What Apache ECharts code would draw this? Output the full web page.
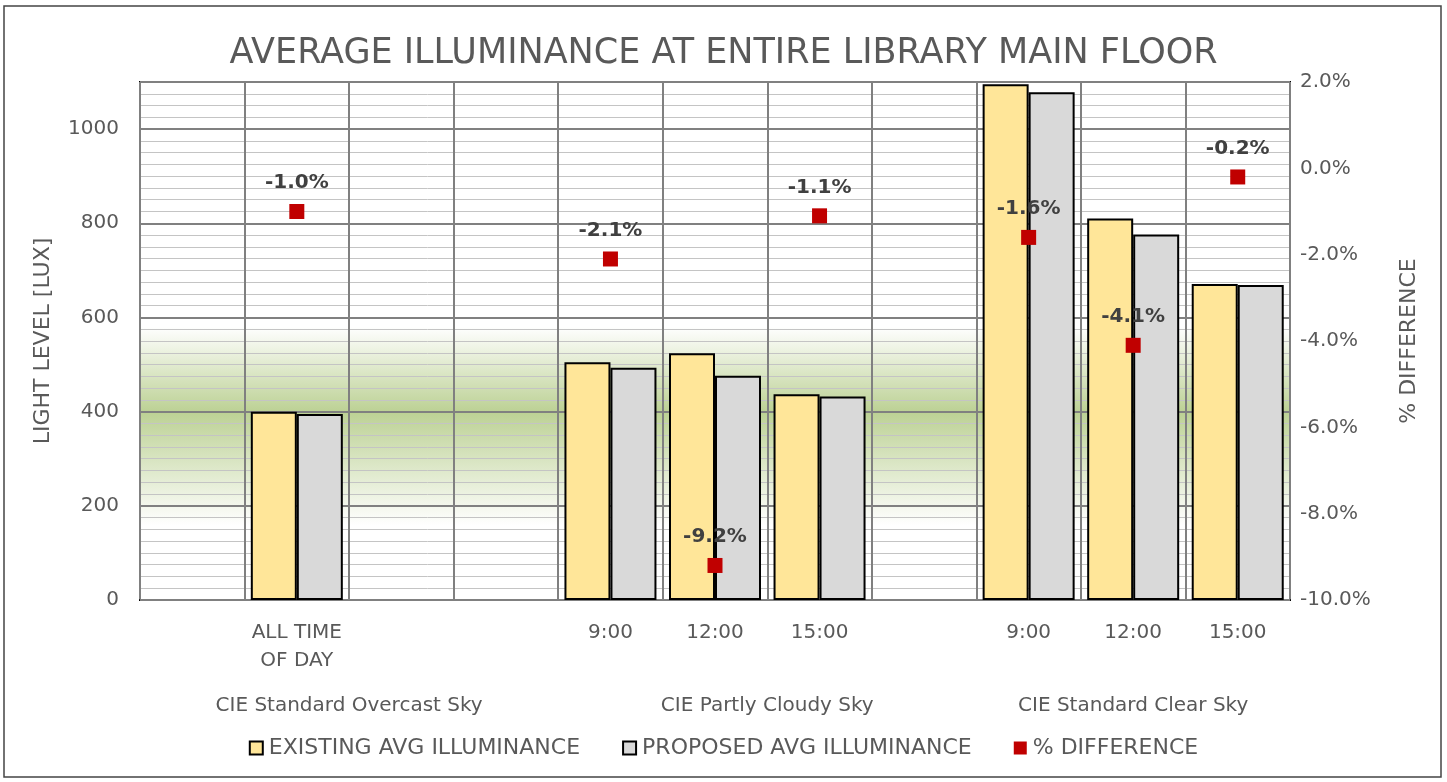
<!DOCTYPE html>
<html>
<head>
<meta charset="utf-8">
<title>Average Illuminance</title>
<style>
  html, body { margin: 0; padding: 0; background: #fff; }
  #main { width: 1447px; height: 782px; }
</style>
<script src="https://cdn.jsdelivr.net/npm/echarts@6/dist/echarts.min.js"></script>
</head>
<body>
<div id="main"></div>
<script>
// slots on the category axis (empty strings are spacer slots)
var slots = ['', 'ALL TIME\nOF DAY', '', '', '9:00', '12:00', '15:00', '', '9:00', '12:00', '15:00'];
var existing = [null, 400, null, null, 505, 524, 437, null, 1095, 810, 671];
var proposed = [null, 395, null, null, 493, 476, 432, null, 1078, 776, 669];
var pctDiff = [null, -1.0, null, null, -2.1, -9.2, -1.1, null, -1.6, -4.1, -0.2];

// sky groups: first slot index and number of slots
var groupNames = ['CIE Standard Overcast Sky', 'CIE Partly Cloudy Sky', 'CIE Standard Clear Sky'];
var groupStart = [0, 4, 8];
var groupSize = [4, 4, 3];

var luxTicks = { min: 0, max: 1100, interval: 200, minor: 25 };
var pctTicks = { min: -10, max: 2, interval: 2 };

// recommended band (lux) for the green shading behind the plot
var band = { top: 580, peak: 400, bottom: 160 };

var groupCenters = groupStart.map(function (s, i) { return s + groupSize[i] / 2; });

var font = '"DejaVu Sans", sans-serif';
var grey = '#595959';

function off(v) { return 1 - v / luxTicks.max; }

var chart = echarts.init(document.getElementById('main'));

var option = {
  animation: false,
  textStyle: { fontFamily: font },
  title: {
    text: 'AVERAGE ILLUMINANCE AT ENTIRE LIBRARY MAIN FLOOR',
    left: 'center',
    top: 31,
    textStyle: { fontSize: 35, fontWeight: 'normal', color: grey, fontFamily: font }
  },
  graphic: [{
    type: 'rect',
    shape: { x: 4, y: 6, width: 1437, height: 771 },
    style: { fill: 'none', stroke: '#444', lineWidth: 1.5 },
    silent: true
  }],
  legend: {
    bottom: 18,
    left: 'center',
    itemWidth: 13,
    itemHeight: 13,
    itemGap: 42,
    textStyle: { fontSize: 22, color: grey, fontFamily: font, padding: [0, 0, 0, 1] },
    data: [
      { name: 'EXISTING AVG ILLUMINANCE', icon: 'rect' },
      { name: 'PROPOSED AVG ILLUMINANCE', icon: 'rect' },
      { name: '% DIFFERENCE', icon: 'rect' }
    ]
  },
  grid: {
    left: 140,
    right: 157,
    top: 82,
    bottom: 182,
    show: true,
    borderColor: '#000',
    borderWidth: 2,
    backgroundColor: new echarts.graphic.LinearGradient(0, 0, 0, 1, [
      { offset: 0, color: '#ffffff' },
      { offset: off(band.top), color: '#ffffff' },
      { offset: off(band.peak), color: '#bcd194' },
      { offset: off(band.bottom), color: '#ffffff' },
      { offset: 1, color: '#ffffff' }
    ])
  },
  xAxis: [{
    type: 'category',
    data: slots,
    position: 'bottom',
    axisLine: { lineStyle: { color: '#000', width: 2 } },
    axisTick: { show: false },
    axisLabel: { interval: 0, fontSize: 20, color: grey, margin: 19, lineHeight: 28, fontFamily: font },
    splitLine: { show: true, interval: 0, lineStyle: { color: '#808080', width: 2 } }
  }, {
    type: 'value',
    min: 0,
    max: slots.length,
    position: 'bottom',
    offset: 88,
    axisLine: { show: false },
    axisTick: { show: false },
    splitLine: { show: false },
    axisLabel: {
      customValues: groupCenters,
      fontSize: 20,
      color: grey,
      fontFamily: font,
      formatter: function (v) {
        var i = groupCenters.indexOf(v);
        return i >= 0 ? groupNames[i] : '';
      }
    }
  }],
  yAxis: [{
    type: 'value',
    min: luxTicks.min,
    max: luxTicks.max,
    interval: luxTicks.interval,
    z: 1,
    name: 'LIGHT LEVEL [LUX]',
    nameLocation: 'middle',
    nameGap: 86,
    nameRotate: 90,
    nameTextStyle: { fontSize: 22, color: grey, fontFamily: font },
    axisLine: { show: false },
    axisTick: { show: false },
    axisLabel: {
      fontSize: 20, color: grey, margin: 21, showMaxLabel: false, fontFamily: font,
      formatter: function (v) { return String(v); }
    },
    splitLine: { lineStyle: { color: '#808080', width: 2 } }
  }, {
    type: 'value',
    min: pctTicks.min,
    max: pctTicks.max,
    interval: pctTicks.interval,
    position: 'right',
    name: '% DIFFERENCE',
    nameLocation: 'middle',
    nameGap: 108,
    nameRotate: 90,
    nameTextStyle: { fontSize: 22, color: grey, fontFamily: font },
    axisLine: { show: false },
    axisTick: { show: false },
    splitLine: { show: false },
    axisLabel: {
      fontSize: 20, color: grey, margin: 10, fontFamily: font,
      formatter: function (v) { return v.toFixed(1) + '%'; }
    }
  }, {
    type: 'value',
    min: luxTicks.min,
    max: luxTicks.max,
    interval: luxTicks.minor,
    z: 0,
    axisLine: { show: false },
    axisTick: { show: false },
    axisLabel: { show: false },
    splitLine: { lineStyle: { color: '#c4c4c4', width: 1 } }
  }],
  series: [{
    name: 'EXISTING AVG ILLUMINANCE',
    type: 'bar',
    data: existing,
    barWidth: 46,
    barGap: '0%',
    z: 3,
    itemStyle: { color: '#ffe699', borderColor: '#000', borderWidth: 2 }
  }, {
    name: 'PROPOSED AVG ILLUMINANCE',
    type: 'bar',
    data: proposed,
    barWidth: 46,
    barGap: '0%',
    z: 3,
    itemStyle: { color: '#d9d9d9', borderColor: '#000', borderWidth: 2 }
  }, {
    name: '% DIFFERENCE',
    type: 'scatter',
    yAxisIndex: 1,
    data: pctDiff,
    symbol: 'rect',
    symbolSize: 15,
    z: 4,
    itemStyle: { color: '#c00000', opacity: 1 },
    label: {
      show: true,
      position: 'top',
      distance: 11,
      fontSize: 20,
      fontWeight: 'bold',
      color: '#404040',
      fontFamily: font,
      formatter: function (p) { return p.value.toFixed(1) + '%'; }
    }
  }]
};

chart.setOption(option);
</script>
</body>
</html>
